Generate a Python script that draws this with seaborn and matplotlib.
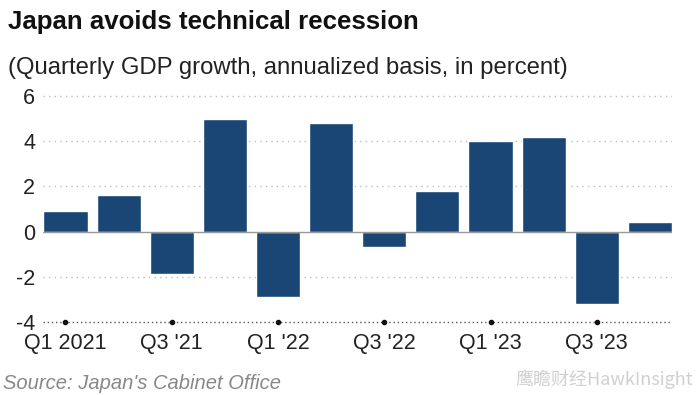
import numpy as np
import pandas as pd
import matplotlib.pyplot as plt
import seaborn as sns

quarters = ["Q1 2021", "Q2 '21", "Q3 '21", "Q4 '21", "Q1 '22", "Q2 '22",
            "Q3 '22", "Q4 '22", "Q1 '23", "Q2 '23", "Q3 '23", "Q4 '23"]
growth = [0.9, 1.6, -1.9, 5.0, -2.9, 4.8, -0.7, 1.8, 4.0, 4.2, -3.2, 0.4]
shown_ticks = ["Q1 2021", "Q3 '21", "Q1 '22", "Q3 '22", "Q1 '23", "Q3 '23"]
y_ticks = [-4, -2, 0, 2, 4, 6]

df = pd.DataFrame({"quarter": quarters, "growth": growth})

sns.set_style("white")
plt.rcParams["font.family"] = ["Liberation Sans", "DejaVu Sans"]

fig = plt.figure(figsize=(7, 3.95), dpi=100)
ax = fig.add_axes([0.062, 0.185, 0.898, 0.575])

sns.barplot(data=df, x="quarter", y="growth", color="#1a4676", width=0.83,
            saturation=1, ax=ax, zorder=3)

ax.set_xlim(-0.415, 11.415)
ax.set_ylim(-4, 6.05)

# gridlines
for y in y_ticks[1:]:
    if y == 0:
        ax.axhline(0, color="#999999", lw=1, zorder=4)
    else:
        ax.axhline(y, color="#bbbbbb", lw=1, ls=(0, (1, 3)), zorder=1)
ax.axhline(-4, color="#555555", lw=1, ls=(0, (1, 2)), zorder=2, clip_on=False)

idx = [quarters.index(q) for q in shown_ticks]
ax.plot(idx, [-4] * len(idx), "o", color="#111111", ms=3, clip_on=False, zorder=5)

ax.set_xticks(idx)
ax.set_xticklabels(shown_ticks, fontsize=15.5, color="#222222")
ax.set_yticks(y_ticks)
ax.set_yticklabels([str(v) for v in y_ticks], fontsize=15.5, color="#222222")
ax.tick_params(axis="x", length=0, pad=8)
ax.tick_params(axis="y", length=0, pad=6)
ax.set_xlabel("")
ax.set_ylabel("")
sns.despine(ax=ax, left=True, bottom=True)

fig.text(0.012, 0.945, "Japan avoids technical recession", fontsize=18.6,
         fontweight="bold", color="#111111", va="center")
fig.text(0.012, 0.828, "(Quarterly GDP growth, annualized basis, in percent)",
         fontsize=17.2, color="#222222", va="center")
fig.text(0.004, 0.03, "Source: Japan's Cabinet Office", fontsize=14.5,
         style="italic", color="#888888", va="center")
fig.text(0.99, 0.04, "鹰瞻财经HawkInsight", fontsize=13,
         family=["Noto Sans CJK SC", "DejaVu Sans"], color="#d0d0d0",
         ha="right", va="center")

fig.savefig("out.png", dpi=100)
